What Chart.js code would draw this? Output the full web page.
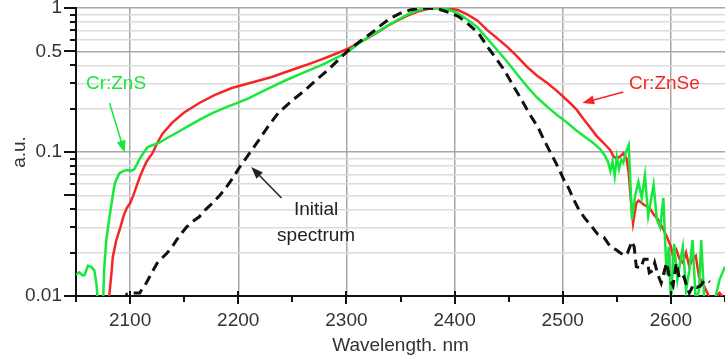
<!DOCTYPE html>
<html>
<head>
<meta charset="utf-8">
<script src="https://cdn.jsdelivr.net/npm/chart.js@4.4.1/dist/chart.umd.min.js"></script>
<style>
  body { margin: 0; background: #fff; }
  #wrap { width: 725px; height: 362px; }
</style>
</head>
<body>
<div id="wrap"><canvas id="spectra"></canvas></div>
<script>
// Cr:ZnS (green)
const wlZnS = [2050,2053,2056,2058,2061,2064,2067,2069,2070,2072,2075,2076,2078,2081,2084,2086,2090,2094,2097,2101,2104,2107,2109,2113,2116,2120,2127,2135,2143,2153,2164,2176,2189,2201,2210,2220,2231,2246,2262,2278,2293,2302,2311,2320,2329,2338,2348,2357,2366,2375,2384,2394,2403,2412,2421,2430,2440,2449,2458,2467,2476,2486,2495,2504,2512,2520,2528,2535,2539,2542,2544,2546,2548,2550,2552,2554,2556,2558,2561,2564,2567,2570,2573,2576,2579,2584,2587,2590,2593,2596,2598,2600,2603,2606,2609,2611,2614,2617,2620,2623,2626,2628,2631,2635,2640,2645,2650];
const auZnS = [0.0141,0.0146,0.0139,0.0140,0.0162,0.0160,0.0150,0.0120,0.0095,0.0080,0.0090,0.0150,0.0245,0.0355,0.050,0.061,0.071,0.074,0.075,0.074,0.076,0.084,0.090,0.100,0.108,0.111,0.116,0.126,0.136,0.150,0.167,0.186,0.205,0.222,0.237,0.258,0.283,0.320,0.360,0.405,0.460,0.500,0.565,0.625,0.685,0.755,0.830,0.905,0.965,0.995,1.0,0.975,0.92,0.83,0.735,0.615,0.505,0.420,0.345,0.285,0.240,0.205,0.180,0.160,0.142,0.128,0.116,0.104,0.094,0.085,0.074,0.086,0.068,0.092,0.076,0.088,0.084,0.098,0.112,0.034,0.050,0.062,0.048,0.069,0.036,0.059,0.034,0.030,0.048,0.014,0.022,0.009,0.023,0.013,0.018,0.022,0.011,0.015,0.0245,0.009,0.011,0.0245,0.009,0.008,0.009,0.013,0.016];

// Cr:ZnSe (red)
const wlZnSe = [2079,2081,2083,2084,2087,2091,2094,2097,2100,2103,2106,2109,2112,2115,2118,2121,2125,2130,2139,2150,2164,2178,2194,2210,2231,2246,2262,2277,2292,2302,2311,2320,2329,2338,2348,2357,2366,2375,2384,2394,2403,2412,2421,2430,2440,2449,2458,2467,2476,2486,2494,2501,2507,2513,2519,2525,2531,2538,2544,2547,2550,2553,2556,2559,2561,2563,2565,2568,2570,2575,2580,2584,2588,2592,2596,2600,2602,2605,2608,2611,2614,2617,2620,2623,2626,2630,2635,2640,2645,2650];
const auZnSe = [0.008,0.0105,0.015,0.0186,0.024,0.030,0.036,0.041,0.044,0.050,0.058,0.067,0.076,0.085,0.092,0.099,0.115,0.134,0.160,0.188,0.219,0.248,0.278,0.300,0.332,0.364,0.400,0.440,0.487,0.525,0.570,0.620,0.680,0.750,0.825,0.890,0.945,0.985,1.0,0.995,0.97,0.90,0.82,0.705,0.610,0.535,0.460,0.390,0.340,0.300,0.268,0.240,0.218,0.196,0.170,0.149,0.130,0.115,0.103,0.093,0.090,0.093,0.098,0.090,0.071,0.046,0.032,0.044,0.046,0.043,0.041,0.037,0.034,0.030,0.026,0.022,0.019,0.021,0.018,0.017,0.020,0.016,0.018,0.019,0.0135,0.012,0.010,0.0095,0.0105,0.0095];

// initial spectrum (black dashed)
const wlInit = [2094,2097,2103,2109,2112,2115,2120,2125,2130,2134,2139,2143,2148,2152,2158,2164,2170,2176,2183,2189,2195,2201,2210,2219,2228,2237,2250,2262,2273,2283,2293,2302,2313,2323,2332,2341,2350,2359,2368,2377,2386,2395,2404,2413,2422,2431,2438,2446,2454,2462,2470,2477,2483,2489,2494,2498,2502,2505,2510,2514,2520,2526,2532,2538,2544,2549,2553,2557,2560,2564,2566,2568,2572,2575,2578,2580,2583,2585,2588,2591,2594,2596,2599,2602,2605,2608,2612,2615,2617,2621,2624,2627,2630,2633,2636];
const auInit = [0.009,0.0103,0.0105,0.0105,0.0115,0.0123,0.0145,0.0169,0.0185,0.0198,0.022,0.0245,0.0275,0.030,0.033,0.0355,0.040,0.044,0.050,0.057,0.066,0.078,0.097,0.121,0.152,0.187,0.228,0.270,0.320,0.371,0.440,0.510,0.590,0.670,0.760,0.852,0.920,0.970,0.995,1.0,0.98,0.93,0.87,0.77,0.67,0.53,0.45,0.37,0.29,0.23,0.180,0.149,0.120,0.098,0.083,0.072,0.062,0.057,0.047,0.041,0.035,0.031,0.027,0.0256,0.022,0.021,0.020,0.019,0.020,0.024,0.022,0.016,0.0156,0.018,0.018,0.0145,0.015,0.017,0.014,0.0123,0.015,0.017,0.013,0.0118,0.017,0.013,0.0136,0.0115,0.0105,0.012,0.0115,0.0117,0.0125,0.013,0.0125];

const xTicks = [2050,2100,2150,2200,2250,2300,2350,2400,2450,2500,2550,2600,2650];
const xLabels = [2100,2200,2300,2400,2500,2600];
const yTicks = [0.01,0.02,0.03,0.04,0.05,0.06,0.07,0.08,0.09,0.1,0.2,0.3,0.4,0.5,0.6,0.7,0.8,0.9,1];
const yLabels = [0.01,0.1,0.5,1];
const yMajor = [0.01,0.05,0.1,0.5,1];

const GREEN = '#17e83c';
const RED = '#f52626';
const FONT = '"Liberation Sans", Arial, sans-serif';

function pts(xs, ys) {
    return xs.map((x, i) => ({x: x, y: ys[i]}));
}

// text + arrow notes, placed in data units
const notes = [
    {lines: ['Cr:ZnS'], wl: 2087, au: 0.30, color: GREEN, from: [2081, 0.219], to: [2095, 0.099]},
    {lines: ['Cr:ZnSe'], wl: 2594, au: 0.30, color: RED, from: [2556, 0.261], to: [2518, 0.219]},
    {lines: ['Initial', 'spectrum'], wl: 2272, au: 0.0396, color: '#222', from: [2240, 0.048], to: [2212, 0.0787]}
];

const notesPlugin = {
    id: 'notes',
    afterDatasetsDraw(chart) {
        const ctx = chart.ctx;
        const xs = chart.scales.x, ys = chart.scales.y;
        ctx.save();
        ctx.font = '19px ' + FONT;
        ctx.textAlign = 'center';
        ctx.textBaseline = 'middle';
        notes.forEach(n => {
            ctx.fillStyle = n.color;
            const tx = xs.getPixelForValue(n.wl), ty = ys.getPixelForValue(n.au);
            n.lines.forEach((t, i) => ctx.fillText(t, tx, ty + i * 26));
            const x1 = xs.getPixelForValue(n.from[0]), y1 = ys.getPixelForValue(n.from[1]);
            const x2 = xs.getPixelForValue(n.to[0]), y2 = ys.getPixelForValue(n.to[1]);
            const a = Math.atan2(y2 - y1, x2 - x1);
            ctx.strokeStyle = n.color;
            ctx.lineWidth = 1.5;
            ctx.beginPath();
            ctx.moveTo(x1, y1);
            ctx.lineTo(x2 - 8 * Math.cos(a), y2 - 8 * Math.sin(a));
            ctx.stroke();
            ctx.beginPath();
            ctx.moveTo(x2, y2);
            ctx.lineTo(x2 - 12 * Math.cos(a) + 4.5 * Math.sin(a), y2 - 12 * Math.sin(a) - 4.5 * Math.cos(a));
            ctx.lineTo(x2 - 12 * Math.cos(a) - 4.5 * Math.sin(a), y2 - 12 * Math.sin(a) + 4.5 * Math.cos(a));
            ctx.closePath();
            ctx.fill();
        });
        ctx.restore();
    }
};

// tick marks like the original plotting program
const ticksPlugin = {
    id: 'tickMarks',
    afterDraw(chart) {
        const ctx = chart.ctx;
        const area = chart.chartArea;
        const xs = chart.scales.x, ys = chart.scales.y;
        ctx.save();
        ctx.strokeStyle = '#111';
        ctx.lineWidth = 2;
        ctx.beginPath();
        xTicks.forEach(v => {
            const px = Math.round(xs.getPixelForValue(v));
            const major = v % 100 === 0;
            ctx.moveTo(px, area.bottom - (major ? 5 : 0));
            ctx.lineTo(px, area.bottom + (major ? 8 : 6));
        });
        yTicks.forEach(v => {
            const py = Math.round(ys.getPixelForValue(v));
            const major = yMajor.includes(v);
            ctx.moveTo(area.left - (major ? 12 : 6), py);
            ctx.lineTo(area.left, py);
        });
        ctx.stroke();
        ctx.restore();
    }
};

new Chart(document.getElementById('spectra'), {
    type: 'scatter',
    data: {
        datasets: [
            {
                label: 'Initial spectrum',
                data: pts(wlInit, auInit),
                showLine: true,
                borderColor: '#111',
                borderWidth: 3,
                borderDash: [10, 6],
                pointRadius: 0,
                tension: 0
            },
            {
                label: 'Cr:ZnS',
                data: pts(wlZnS, auZnS),
                showLine: true,
                borderColor: GREEN,
                borderWidth: 2.5,
                pointRadius: 0,
                tension: 0
            },
            {
                label: 'Cr:ZnSe',
                data: pts(wlZnSe, auZnSe),
                showLine: true,
                borderColor: RED,
                borderWidth: 2.5,
                pointRadius: 0,
                tension: 0
            }
        ]
    },
    options: {
        responsive: true,
        maintainAspectRatio: false,
        animation: false,
        devicePixelRatio: 1,
        layout: { padding: 0, autoPadding: false },
        plugins: {
            legend: { display: false },
            tooltip: { enabled: false }
        },
        scales: {
            x: {
                type: 'linear',
                min: 2050,
                max: 2650,
                afterBuildTicks: (scale) => { scale.ticks = xTicks.map(v => ({value: v})); },
                afterFit: (scale) => {
                    scale.height = 66;
                    scale.paddingLeft = 0;
                    scale.paddingRight = 0;
                },
                ticks: {
                    autoSkip: false,
                    maxRotation: 0,
                    padding: 13,
                    color: '#333',
                    font: { family: FONT, size: 19 },
                    callback: (v) => xLabels.includes(v) ? String(v) : ''
                },
                grid: {
                    drawTicks: false,
                    color: (c) => (c.tick && xLabels.includes(c.tick.value)) ? '#a8a8a8' : 'rgba(0,0,0,0)',
                    lineWidth: 1.5
                },
                border: { display: true, color: '#111', width: 2 },
                title: {
                    display: true,
                    text: 'Wavelength. nm',
                    color: '#333',
                    font: { family: FONT, size: 19 },
                    padding: { top: 0, bottom: 5 }
                }
            },
            y: {
                type: 'logarithmic',
                min: 0.01,
                max: 1,
                afterBuildTicks: (scale) => { scale.ticks = yTicks.map(v => ({value: v})); },
                afterFit: (scale) => {
                    scale.width = 76;
                    scale.paddingTop = 8;
                    scale.paddingBottom = 0;
                },
                ticks: {
                    autoSkip: false,
                    padding: 14,
                    color: '#333',
                    font: { family: FONT, size: 19 },
                    callback: (v) => yLabels.includes(v) ? String(v) : ''
                },
                grid: {
                    drawTicks: false,
                    color: (c) => {
                        if (!c.tick) return '#ddd';
                        const v = c.tick.value;
                        if (v === 1 || v === 0.5 || v === 0.1) return '#a8a8a8';
                        return '#dcdcdc';
                    },
                    lineWidth: 1.5
                },
                border: { display: true, color: '#111', width: 2 },
                title: {
                    display: true,
                    text: 'a.u.',
                    color: '#333',
                    font: { family: FONT, size: 19 },
                    padding: { top: 8, bottom: 0 }
                }
            }
        }
    },
    plugins: [notesPlugin, ticksPlugin]
});
</script>
</body>
</html>
